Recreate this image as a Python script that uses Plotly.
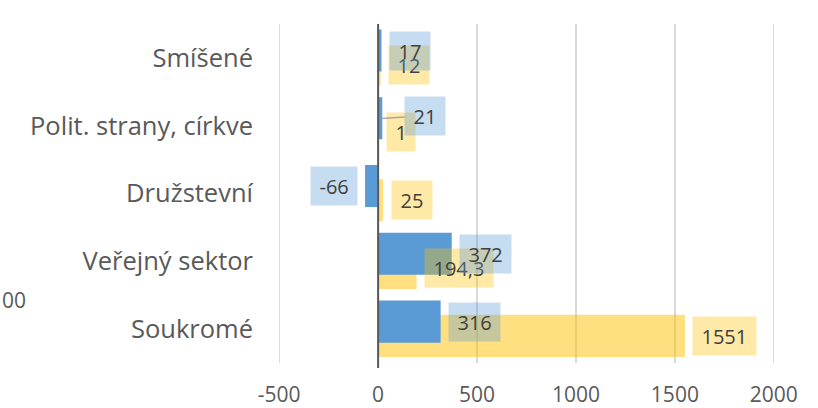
import plotly.graph_objects as go

categories = ["Soukromé", "Veřejný sektor", "Družstevní", "Polit. strany, církve", "Smíšené"]
blue_values = [316, 372, -66, 21, 17]
gold_values = [1551, 194.3, 25, 1, 12]
blue_labels = ["316", "372", "-66", "21", "17"]
gold_labels = ["1551", "194,3", "25", "1", "12"]
x_ticks = [-500, 0, 500, 1000, 1500, 2000]
x_tick_text = ["-500", "0", "500", "1000", "1500", "2000"]

BLUE = "#5B9BD5"
GOLD = "rgba(255,192,0,0.5)"
BLUE_LBL = "rgba(91,155,213,0.35)"
GOLD_LBL = "rgba(255,192,0,0.35)"
TXT = "#404040"
FONT = "Open Sans"
GRID = "#D9D9D9"

fig = go.Figure()
fig.add_trace(go.Bar(y=categories, x=gold_values, orientation="h",
                     marker=dict(color=GOLD, line=dict(width=0)),
                     offset=-0.41, width=0.62, hoverinfo="x+y"))
fig.add_trace(go.Bar(y=categories, x=blue_values, orientation="h",
                     marker=dict(color=BLUE, line=dict(width=0)),
                     offset=-0.20, width=0.62, hoverinfo="x+y"))

annotations = []
for i, (v, t) in enumerate(zip(gold_values, gold_labels)):
    annotations.append(dict(x=v, y=i - 0.10, xref="x", yref="y", text=t,
                            showarrow=False, xanchor="left" if v >= 0 else "right",
                            xshift=7.5 if v >= 0 else -7.5,
                            bgcolor=GOLD_LBL, borderpad=8.5, height=21,
                            font=dict(family=FONT, size=20, color=TXT)))
for i, (v, t) in enumerate(zip(blue_values, blue_labels)):
    if t == "21":
        annotations.append(dict(x=v, y=i + 0.105, xref="x", yref="y", text=t,
                                showarrow=True, arrowhead=0, arrowwidth=1.5,
                                arrowcolor="#A6A6A6", ax=43, ay=-3, standoff=0,
                                bgcolor=BLUE_LBL, borderpad=8.5, height=21,
                                font=dict(family=FONT, size=20, color=TXT)))
    else:
        annotations.append(dict(x=v, y=i + 0.105, xref="x", yref="y", text=t,
                                showarrow=False, xanchor="left" if v >= 0 else "right",
                                xshift=7.5 if v >= 0 else -7.5,
                                bgcolor=BLUE_LBL, borderpad=8.5, height=21,
                                font=dict(family=FONT, size=20, color=TXT)))

# fragments of neighbouring elements cut by the image border
annotations.append(dict(x=-0.5636, y=0.186, xref="paper", yref="paper", text="00",
                        showarrow=False, xanchor="left", yanchor="middle",
                        font=dict(family=FONT, size=21, color="#595959")))
annotations.append(dict(x=0.669, y=1.072, xref="paper", yref="paper", text="g",
                        showarrow=False, xanchor="center", yanchor="bottom",
                        font=dict(family=FONT, size=24, color="#595959")))

shapes = [dict(type="line", xref="x", yref="paper", x0=v, x1=v, y0=0, y1=1,
               line=dict(color=GRID, width=1.5), layer="below")
          for v in (x_ticks[0], x_ticks[-1])]
shapes.append(dict(type="line", xref="x", yref="paper", x0=0, x1=0, y0=-0.015, y1=1,
                   line=dict(color="#595959", width=2), layer="above"))

fig.update_layout(
    width=818, height=408,
    margin=dict(l=279, r=44, t=24, b=45, autoexpand=False),
    paper_bgcolor="white", plot_bgcolor="white",
    barmode="overlay", showlegend=False,
    font=dict(family=FONT, color="#595959"),
    annotations=annotations,
    shapes=shapes,
    xaxis=dict(range=[-501, 2001], tickvals=x_ticks, ticktext=x_tick_text,
               showgrid=True, automargin=False,
               gridcolor=GRID, gridwidth=1.5, zeroline=False,
               showline=False, ticks="", ticklabelstandoff=17,
               tickfont=dict(family=FONT, size=21, color="#595959")),
    yaxis=dict(type="category", categoryorder="array", categoryarray=categories,
               range=[-0.5, 4.5], showgrid=False, zeroline=False, showline=False,
               ticks="", ticklabelstandoff=25, automargin=False,
               tickfont=dict(family=FONT, size=25.5, color="#595959")),
)

fig.write_html("out.html", config={"displayModeBar": False},
               post_script="document.body.style.margin='0';")
